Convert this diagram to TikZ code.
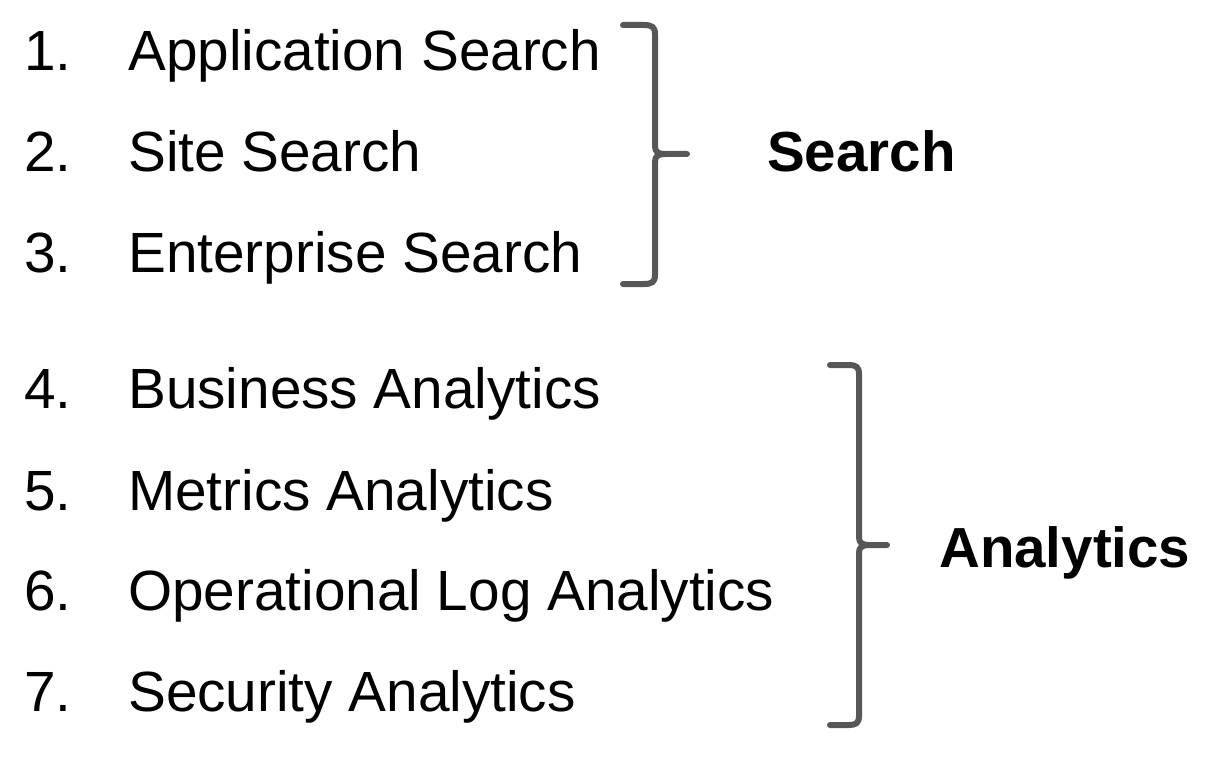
\documentclass[tikz,border=0pt]{standalone}
\usepackage{fontspec}
\setmainfont{Liberation Sans}
\definecolor{bracegray}{HTML}{575757}
\begin{document}
\begin{tikzpicture}[x=1pt,y=-1pt,
  num/.style={anchor=base west,inner sep=0pt,font=\fontsize{56.7}{60}\selectfont},
  item/.style={anchor=base west,inner sep=0pt,font=\fontsize{56.7}{60}\selectfont},
  grp/.style={anchor=base west,inner sep=0pt,font=\fontsize{56.5}{60}\selectfont\bfseries},
  bracestyle/.style={draw=bracegray,line width=6pt,line cap=round,line join=round}]
\useasboundingbox (0,0) rectangle (1220,770);
% numbers
\node[num] (n1) at (24,71) {1.};
\node[num] (n2) at (24,172) {2.};
\node[num] (n3) at (24,272) {3.};
\node[num] (n4) at (24,408) {4.};
\node[num] (n5) at (24,510) {5.};
\node[num] (n6) at (24,610) {6.};
\node[num] (n7) at (24,711) {7.};
% items
\node[item] (i1) at (128,71) {Application Search};
\node[item] (i2) at (128,172) {Site Search};
\node[item] (i3) at (128,272) {Enterprise Search};
\node[item] (i4) at (128,408) {Business Analytics};
\node[item] (i5) at (128,510) {Metrics Analytics};
\node[item] (i6) at (128,610) {Operational Log Analytics};
\node[item] (i7) at (128,711) {Security Analytics};
% group labels
\node[grp] (gs) at (767,172) {Search};
\node[grp] (ga) at (939,567) {Analytics};
% brace 1
\draw[bracestyle] (623,25) -- (644,25) .. controls (652,25) and (655,27) .. (655,34)
  -- (655,146) .. controls (655,152) and (658,154) .. (665,154) -- (687,154);
\draw[bracestyle] (665,154) .. controls (658,154) and (655,156) .. (655,162)
  -- (655,275) .. controls (655,282) and (652,284) .. (644,284) -- (623,284);
% brace 2
\draw[bracestyle] (830,365) -- (849,365) .. controls (856,365) and (859,367) .. (859,374)
  -- (859,537) .. controls (859,543) and (862,545) .. (869,545) -- (887,545);
\draw[bracestyle] (869,545) .. controls (862,545) and (859,547) .. (859,553)
  -- (859,716) .. controls (859,723) and (856,725) .. (849,725) -- (830,725);
\end{tikzpicture}
\end{document}
